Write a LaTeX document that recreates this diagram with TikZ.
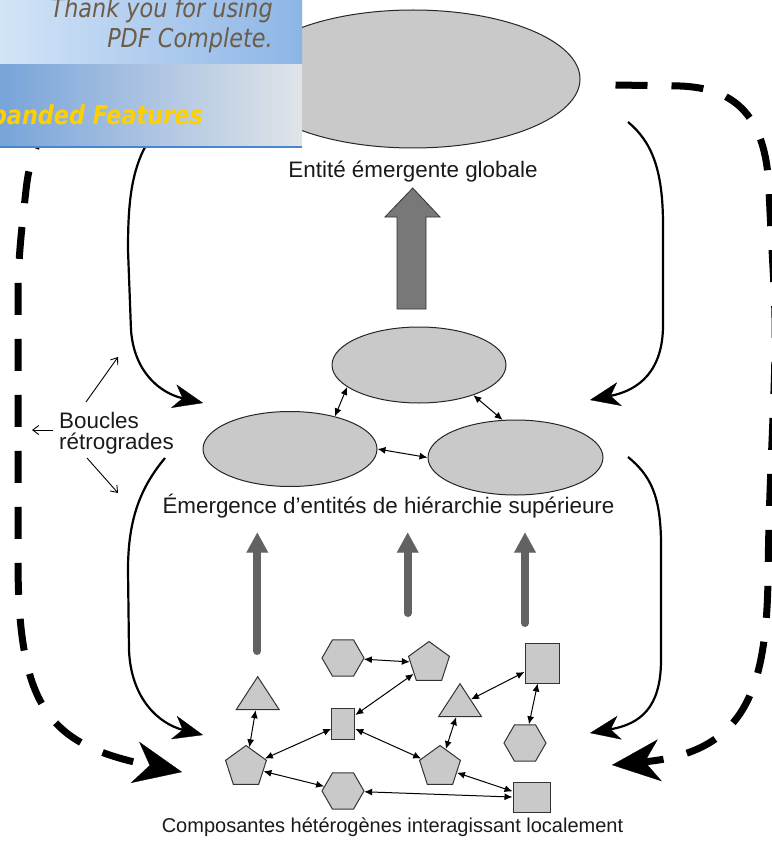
\documentclass[tikz,border=0pt]{standalone}
\usepackage{fontspec}
\setmainfont{Liberation Sans}
\newfontfamily\bannerfont[FakeStretch=0.86]{DejaVu Sans}
\usetikzlibrary{shapes.geometric,arrows.meta}
\definecolor{shapegray}{HTML}{C9C9C9}
\definecolor{bigarrow}{HTML}{787878}
\definecolor{uparrow}{HTML}{626262}
\definecolor{txt}{HTML}{1A1A1A}
\definecolor{bannerA}{HTML}{D3E4F7}
\definecolor{bannerB}{HTML}{8CB5E6}
\definecolor{bannerC}{HTML}{78A4DA}
\definecolor{bannerD}{HTML}{E1E4E9}
\definecolor{bannerline}{HTML}{4A86CF}
\definecolor{bannertext}{HTML}{6C5C48}
\definecolor{bannergold}{HTML}{FFD000}
\tikzset{
  lbl/.style={font=\fontsize{22.4}{22.4}\selectfont, text=txt, inner sep=0pt, anchor=base},
  smalllbl/.style={lbl, font=\fontsize{20}{20}\selectfont},
  ell/.style={ellipse, draw=black!85, line width=1pt, fill=shapegray, inner sep=0pt},
  shp/.style={draw=black!80, fill=shapegray, line width=1pt, inner sep=0pt},
  hexa/.style={shp, regular polygon, regular polygon sides=6, minimum size=42pt},
  penta/.style={shp, regular polygon, regular polygon sides=5, minimum size=43pt},
  tri/.style={shp, isosceles triangle, isosceles triangle stretches, shape border rotate=90, minimum width=43pt, minimum height=33pt},
  boxshape/.style={shp, rectangle},
  link/.style={{Latex[length=8pt,width=7pt]}-{Latex[length=8pt,width=7pt]}, line width=1pt},
  loopback/.style={line width=2.2pt, -{Stealth[length=30pt,width=24pt,inset=9pt,line width=0.3pt]}},
  feedback/.style={line width=7pt, dash pattern=on 32pt off 24pt, -{Stealth[length=48pt,width=42pt,inset=15pt,line width=0.3pt]}},
  pointer/.style={line width=0.9pt, -{Straight Barb[length=6pt,width=9pt]}},
  rise/.style={draw=uparrow, line width=8pt, line cap=round, -{Triangle[length=20pt,width=22pt,line width=0.1pt]}}
}
\begin{document}
\begin{tikzpicture}[x=1pt,y=-1pt]
\useasboundingbox (0,0) rectangle (771,845);

% levels
\node[ell, minimum width=334pt, minimum height=138pt] (top) at (413,79) {};
\node[lbl] (toplbl) at (413,178) {Entité émergente globale};

\draw[fill=bigarrow, draw=black!80, line width=0.8pt] (397,309) -- (397,217) -- (385,217) -- (412.7,188) -- (440,217) -- (426,217) -- (426,309) -- cycle;

\node[ell, minimum width=174pt, minimum height=76pt] (midT) at (419,365) {};
\node[ell, minimum width=174pt, minimum height=75pt] (midL) at (290,449) {};
\node[ell, minimum width=175pt, minimum height=75pt] (midR) at (515.5,457.5) {};
\draw[link] (midT.197) -- (midL.36);
\draw[link] (midT.-29) -- (midR.109);
\draw[link] (midL.0) -- (midR.180);
\node[lbl] (midlbl) at (388.5,513) {Émergence d’entités de hiérarchie supérieure};

% rising arrows
\coordinate (r1a) at (257.3,651); \coordinate (r1b) at (257.3,532.7);
\coordinate (r2a) at (407.7,613); \coordinate (r2b) at (407.7,532.7);
\coordinate (r3a) at (525,623); \coordinate (r3b) at (525,532.7);
\draw[rise] (r1a) -- (r1b);
\draw[rise] (r2a) -- (r2b);
\draw[rise] (r3a) -- (r3b);

% components
\node[hexa] (A) at (343,658) {};
\node[penta] (B) at (429,663) {};
\node[boxshape, minimum width=34pt, minimum height=40pt] (C) at (542,663) {};
\node[tri] (D) at (257.7,698) {};
\node[boxshape, minimum width=23pt, minimum height=31pt] (E) at (343.3,723.5) {};
\node[tri] (F) at (460,705) {};
\node[hexa] (G) at (525,743) {};
\node[penta] (H) at (246,767) {};
\node[penta] (I) at (440,767) {};
\node[hexa] (J) at (343,791) {};
\node[boxshape, minimum width=37pt, minimum height=30pt] (K) at (531.5,797.7) {};
\draw[link] (A) -- (B);
\draw[link] (B) -- (E);
\draw[link] (C) -- (F);
\draw[link] (C) -- (G);
\draw[link] (D) -- (H);
\draw[link] (E) -- (H);
\draw[link] (E) -- (I);
\draw[link] (F) -- (I);
\draw[link] (I) -- (K);
\draw[link] (H) -- (J);
\draw[link] (J) -- (K);
\node[smalllbl] (botlbl) at (392.5,832) {Composantes hétérogènes interagissant localement};

% loop-back arrows
\coordinate (l1s) at (163,122); \coordinate (l1e) at (203,403);
\coordinate (l2s) at (628,122); \coordinate (l2e) at (590,400);
\coordinate (l3s) at (165,458); \coordinate (l3e) at (203,735);
\coordinate (l4s) at (628,457); \coordinate (l4e) at (590,733);
\draw[loopback] (l1s) .. controls (132,155) and (128,195) .. (128,250) -- (131,330) .. controls (134,372) and (160,393) .. (l1e);
\draw[loopback] (l2s) .. controls (652,142) and (663,170) .. (663,225) -- (663,325) .. controls (663,370) and (640,390) .. (l2e);
\draw[loopback] (l3s) .. controls (140,488) and (128,520) .. (128,570) -- (129,650) .. controls (131,700) and (160,724) .. (l3e);
\draw[loopback] (l4s) .. controls (650,475) and (661,495) .. (661,545) -- (661,660) .. controls (661,708) and (640,724) .. (l4e);

% dashed feedback
\coordinate (f1e) at (182,772);
\coordinate (f2e) at (612,765);
\draw[feedback] ([xshift=-35pt]top.west) -- (140,88) .. controls (75,90) and (34,115) .. (26,190) .. controls (21,235) and (18,260) .. (18,300) -- (18,560) .. controls (18,710) and (50,745) .. (f1e);
\draw[feedback] ([xshift=35pt,yshift=-6pt]top.east) -- (680,86) .. controls (730,88) and (766,110) .. (769,190) .. controls (772,260) and (776,300) .. (775,350) .. controls (774,420) and (769,480) .. (768,580) .. controls (766,690) and (745,752) .. (f2e);

% legend
\node[lbl, anchor=base west] (bl1) at (59,428) {Boucles};
\node[lbl, anchor=base west] (bl2) at (59,449) {rétrogrades};
\coordinate (p1s) at (86,402); \coordinate (p1e) at (118,357);
\coordinate (p2s) at (53,430); \coordinate (p2e) at (32,430);
\coordinate (p3s) at (87,458); \coordinate (p3e) at (118,493);
\draw[pointer] (p1s) -- (p1e);
\draw[pointer] (p2s) -- (p2e);
\draw[pointer] (p3s) -- (p3e);

% banner overlay
\begin{scope}
\clip (0,0) rectangle (302,148);
\shade[left color=bannerA, right color=bannerB] (0,0) rectangle (302,65);
\shade[left color=bannerC, right color=bannerD] (0,65) rectangle (302,146);
\draw[bannerline, line width=2pt] (0,147) -- (302,147);
\node[anchor=base east, inner sep=0pt, font=\bannerfont\itshape\fontsize{26}{26}\selectfont, text=bannertext] (bt1) at (273,18) {Thank you for using};
\node[anchor=base east, inner sep=0pt, font=\bannerfont\itshape\fontsize{26}{26}\selectfont, text=bannertext] (bt2) at (273,48) {PDF Complete.};
\node[anchor=base east, inner sep=0pt, font=\bannerfont\bfseries\itshape\fontsize{26}{26}\selectfont, text=bannergold] (bt3) at (203,125) {panded Features};
\end{scope}
\end{tikzpicture}
\end{document}
